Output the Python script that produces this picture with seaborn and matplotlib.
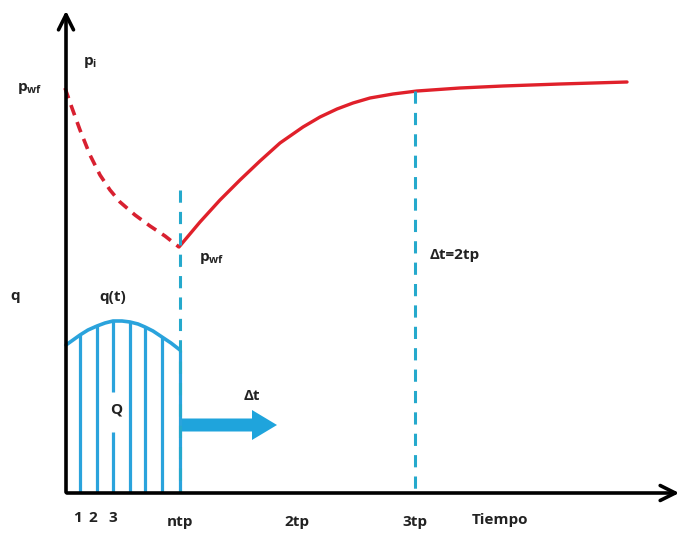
import numpy as np
import pandas as pd
import seaborn as sns
import matplotlib
matplotlib.use("Agg")
import matplotlib.pyplot as plt
from matplotlib.patches import FancyArrow

sns.set_theme(style="white")
plt.rcParams["font.family"] = ["Open Sans", "DejaVu Sans"]

# Schematic units: time grows to the right, pressure / rate grow upwards (axis is inverted)
origin_x, origin_y = 66, 493

# Pressure during the flow period (dashed drawdown) and the build-up (solid)
draw_t = [65, 72, 80, 90, 100, 110, 120, 135, 150, 165, 179]
draw_p = [88, 108, 130, 155, 175, 190, 202, 215, 226, 236, 247]
build_t = [179, 200, 220, 240, 260, 280, 303, 320, 337, 353, 370, 393, 417,
           460, 503, 560, 627]
build_p = [247, 222, 200, 180, 161, 143, 127, 117, 109, 103, 98, 94, 91,
           88, 86, 84, 82]

# Flow rate q(t) during production and its step subdivisions
rate_t = [66, 73, 80, 88, 97, 105, 113, 122, 130, 138, 145, 153, 162, 171, 180]
rate_q = [345, 340, 335, 330, 326, 323, 321, 321, 322, 324, 327, 331, 337, 343, 350]
step_t = [80, 97, 113, 130, 145, 162, 180]
step_q = [335, 326, 321, 322, 327, 337, 350]

tick_labels = ["1", "2", "3", "ntp", "2tp", "3tp"]
tick_pos = [77, 93, 113, 180, 297, 415]

red = "#e0202a"
blue = "#2aa3dc"
teal = "#25a9cc"

fig = plt.figure(figsize=(6.84, 5.37), dpi=100)
ax = fig.add_axes([0, 0, 1, 1])
ax.set_xlim(0, 684)
ax.set_ylim(537, 0)
ax.axis("off")

df_draw = pd.DataFrame({"t": draw_t, "p": draw_p})
df_build = pd.DataFrame({"t": build_t, "p": build_p})
df_rate = pd.DataFrame({"t": rate_t, "q": rate_q})

sns.lineplot(data=df_draw, x="t", y="p", ax=ax, color="#d82030", lw=2.6,
             linestyle=(0, (3, 2)), sort=False)
sns.lineplot(data=df_build, x="t", y="p", ax=ax, color=red, lw=2.4, sort=False)
sns.lineplot(data=df_rate, x="t", y="q", ax=ax, color=blue, lw=2.6, sort=False)

# Vertical strips under q(t); the third one is broken around the Q label
for t, q in zip(step_t, step_q):
    if t == 113:
        ax.vlines(t, q, 392, color=blue, lw=2.3)
        ax.vlines(t, 432, origin_y, color=blue, lw=2.3)
    else:
        ax.vlines(t, q, origin_y, color=blue, lw=2.3)

# Dashed markers at end of production and at 3tp
ax.vlines(180, 190, origin_y, color=teal, lw=2.2, linestyles=(0, (4, 3)))
ax.vlines(415, 91, origin_y, color=teal, lw=2.2, linestyles=(0, (4, 3)))

# Axes with arrows
ax.annotate("", xy=(66, 8), xytext=(66, origin_y + 2),
            arrowprops=dict(arrowstyle="->,head_length=0.9,head_width=0.45",
                            color="black", lw=2.6))
ax.annotate("", xy=(682, origin_y), xytext=(64, origin_y),
            arrowprops=dict(arrowstyle="->,head_length=0.9,head_width=0.45",
                            color="black", lw=2.6))

# Shut-in time arrow
ax.add_patch(FancyArrow(180, 425, 72, 0, width=13, head_width=30,
                        head_length=25, length_includes_head=False,
                        color="#1fa4dc", lw=0))

txt = dict(color="#222222", fontsize=11, fontweight="bold", ha="center", va="center")
ax.text(30, 88, r"p$_{\mathregular{wf}}$", **txt)
ax.text(90, 62, r"p$_{\mathregular{i}}$", **txt)
ax.text(212, 258, r"p$_{\mathregular{wf}}$", **txt)
ax.text(15, 296, "q", **txt)
ax.text(113, 297, "q(t)", **txt)
ax.text(116, 410, "Q", **txt)
ax.text(252, 396, "Δt", **txt)
ax.text(455, 255, "Δt=2tp", **txt)
ax.text(500, 520, "Tiempo", **txt)
for lab, pos in zip(tick_labels, tick_pos):
    ax.text(pos, 518 if len(lab) == 1 else 522, lab, **txt)

fig.savefig("out.png", dpi=100)
